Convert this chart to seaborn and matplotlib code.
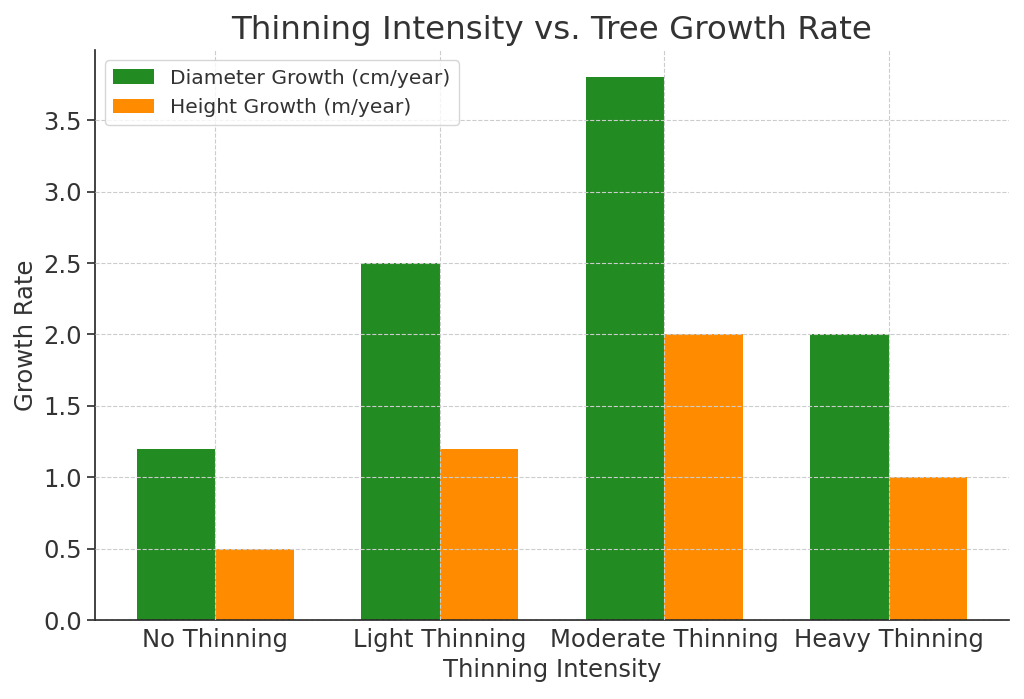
import matplotlib
matplotlib.use("Agg")
import matplotlib.pyplot as plt
import seaborn as sns
import pandas as pd

categories = ["No Thinning", "Light Thinning", "Moderate Thinning", "Heavy Thinning"]
diameter_growth = [1.2, 2.5, 3.8, 2.0]
height_growth = [0.5, 1.2, 2.0, 1.0]
series_names = ["Diameter Growth (cm/year)", "Height Growth (m/year)"]
colors = ["#228B22", "#FF8C00"]

df = pd.DataFrame({
    "Thinning Intensity": categories * 2,
    "Growth Rate": diameter_growth + height_growth,
    "Series": [series_names[0]] * 4 + [series_names[1]] * 4,
})

sns.set_theme(style="ticks")
plt.rcParams["font.family"] = ["DejaVu Sans"]
text_color = "#333333"
plt.rcParams.update({
    "text.color": text_color,
    "axes.labelcolor": text_color,
    "xtick.color": text_color,
    "ytick.color": text_color,
})

fig, ax = plt.subplots(figsize=(10.24, 6.99), dpi=100)
sns.barplot(data=df, x="Thinning Intensity", y="Growth Rate", hue="Series",
            palette=colors, width=0.7, gap=0, saturation=1, ax=ax,
            edgecolor="none", linewidth=0)

ax.set_axisbelow(False)
ax.grid(True, linestyle="--", color="#cccccc", linewidth=0.8)
ax.set_xlim(-0.535, 3.535)
ax.set_ylim(0, 3.99)
ax.set_yticks([0, 0.5, 1.0, 1.5, 2.0, 2.5, 3.0, 3.5])
ax.set_title("Thinning Intensity vs. Tree Growth Rate", fontsize=23.4, color=text_color, pad=8)
ax.set_xlabel("Thinning Intensity", fontsize=17.5, labelpad=4)
ax.set_ylabel("Growth Rate", fontsize=17.5)
ax.tick_params(axis="both", labelsize=17.5)
ax.tick_params(axis="x", length=0, pad=6)
for s in ["top", "right"]:
    ax.spines[s].set_visible(False)
for s in ["left", "bottom"]:
    ax.spines[s].set_color("#222222")
    ax.spines[s].set_linewidth(1.2)

leg = ax.legend(loc="upper left", fontsize=14.6, frameon=True, title=None)
leg.get_frame().set_edgecolor("#cccccc")
for t in leg.get_texts():
    t.set_color(text_color)

fig.subplots_adjust(left=0.093, right=0.985, top=0.928, bottom=0.113)
fig.savefig("out.png", dpi=100)
